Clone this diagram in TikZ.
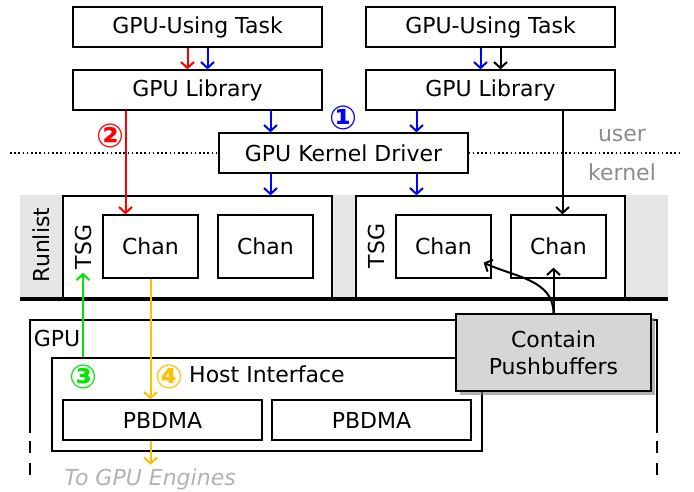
\documentclass[tikz,border=0pt]{standalone}
\usepackage{fontspec}
\setmainfont{DejaVu Sans}
\usetikzlibrary{positioning,shadows,arrows.meta}

\definecolor{hiyellow}{RGB}{255,192,0}
\definecolor{higreen}{RGB}{0,230,0}
\definecolor{bandgray}{RGB}{230,230,230}
\definecolor{notegray}{RGB}{214,214,214}

\tikzset{
  box/.style={draw, line width=1.3pt, fill=white, inner sep=0pt},
  callarrow/.style={-{Straight Barb[length=6pt, width=13pt]}, line width=2pt},
  faint/.style={text=black!45},
  stepmark/.style={font=\fontsize{33}{33}\selectfont\bfseries, inner sep=0pt},
}

\begin{document}
\begin{tikzpicture}[x=1pt, y=-1pt, font=\fontsize{22}{27}\selectfont]

\useasboundingbox (0,0) rectangle (694,491);

\coordinate (left-task-pos) at (197.5,27);
\coordinate (right-task-pos) at (490.5,27);
\coordinate (left-lib-pos) at (197.5,90);
\coordinate (right-lib-pos) at (490.5,90);
\coordinate (driver-pos) at (343.5,153);
\coordinate (left-tsg-pos) at (197.5,247.5);
\coordinate (right-tsg-pos) at (490.5,247.5);
\coordinate (host-pos) at (267,404.5);
\coordinate (contain-pos) at (553.5,352.5);

% runlist band and user/kernel split
\fill[bandgray] (20,195) rectangle (668,299);
\node [rotate=90] (runlist-label) at (41,245) {Runlist};

\node [box, minimum width=249, minimum height=40] (left-task) at (left-task-pos) {GPU-Using Task};
\node [box, minimum width=249, minimum height=40] (right-task) at (right-task-pos) {GPU-Using Task};
\node [box, minimum width=249, minimum height=40] (left-lib) at (left-lib-pos) {GPU Library};
\node [box, minimum width=249, minimum height=40] (right-lib) at (right-lib-pos) {GPU Library};
\node [box, minimum width=249, minimum height=40] (driver) at (driver-pos) {GPU Kernel Driver};

\draw [line width=1.3pt, dash pattern=on 1.6pt off 2.6pt] (10,153) -- (driver.west);
\draw [line width=1.3pt, dash pattern=on 1.6pt off 2.6pt] (driver.east) -- (680,153);
\node [faint] (user-label) at (622,135) {user};
\node [faint] (kernel-label) at (622,172) {kernel};

\node [box, minimum width=269, minimum height=103] (left-tsg) at (left-tsg-pos) {};
\node [box, minimum width=269, minimum height=103] (right-tsg) at (right-tsg-pos) {};
\node [rotate=90] (left-tsg-label) at (83,247) {TSG};
\node [rotate=90] (right-tsg-label) at (376,246) {TSG};
\node [box, minimum width=95, minimum height=63] (left-chan-a) at (150.5,246.5) {Chan};
\node [box, minimum width=95, minimum height=63] (left-chan-b) at (265.5,246.5) {Chan};
\node [box, minimum width=95, minimum height=63] (right-chan-a) at (443.5,246.5) {Chan};
\node [box, minimum width=95, minimum height=63] (right-chan-b) at (558.5,246.5) {Chan};

\draw [line width=4pt] (20,299) -- (668,299);

% gpu side
\draw [line width=1.3pt] (30,433) -- (30,320) -- (657,320) -- (657,433);
\draw [line width=1.3pt, dash pattern=on 12pt off 10pt] (30,441) -- (30,476);
\draw [line width=1.3pt, dash pattern=on 12pt off 10pt] (657,441) -- (657,476);
\node (gpu-label) at (57,338) {GPU};

\node [box, minimum width=430, minimum height=93] (host) at (host-pos) {};
\node (host-label) at (267,374) {Host Interface};
\node [box, minimum width=199, minimum height=40] (pbdma-a) at (162.5,420) {PBDMA};
\node [box, minimum width=199, minimum height=40] (pbdma-b) at (371.5,420) {PBDMA};
\node [text=black!30, font=\fontsize{22}{27}\selectfont\itshape] (engines) at (150,479) {To GPU Engines};

% numbered paths
\draw [callarrow, red] ([xshift=-10]left-task.south) -- ([xshift=-10]left-lib.north);
\draw [callarrow, blue] ([xshift=10]left-task.south) -- ([xshift=10]left-lib.north);
\draw [callarrow, blue] ([xshift=-10]right-task.south) -- ([xshift=-10]right-lib.north);
\draw [callarrow] ([xshift=10]right-task.south) -- ([xshift=10]right-lib.north);

\draw [callarrow, blue] ([xshift=-73]driver.north |- left-lib.south) -- ([xshift=-73]driver.north);
\draw [callarrow, blue] ([xshift=73]driver.north |- right-lib.south) -- ([xshift=73]driver.north);
\draw [callarrow, blue] ([xshift=-73]driver.south) -- ([xshift=-73]driver.south |- left-tsg.north);
\draw [callarrow, blue] ([xshift=73]driver.south) -- ([xshift=73]driver.south |- right-tsg.north);
\node [stepmark, text=blue] (step-one) at (343,118) {①};

\draw [callarrow, red] ([xshift=-25]left-chan-a.north |- left-lib.south) -- ([xshift=-25]left-chan-a.north);
\node [stepmark, text=red] (step-two) at (110,136) {②};

\draw [callarrow] ([xshift=4]right-chan-b.north |- right-lib.south) -- ([xshift=4]right-chan-b.north);

\draw [callarrow, higreen] (left-tsg-label.west |- host.north) -- (left-tsg-label.west);
\node [stepmark, text=higreen] (step-three) at (83,377) {③};

\draw [callarrow, hiyellow] (left-chan-a.south) -- (left-chan-a.south |- pbdma-a.north);
\draw [callarrow, hiyellow] (left-chan-a.south |- pbdma-a.south) -- (left-chan-a.south |- engines.north);
\node [stepmark, text=hiyellow] (step-four) at (169,377) {④};

% pushbuffer note
\node [box, fill=notegray, minimum width=195, minimum height=77, align=center,
       drop shadow={shadow xshift=4pt, shadow yshift=-4pt, opacity=0.6}] (contain) at (contain-pos) {Contain\\Pushbuffers};
\draw [callarrow] (contain.north) -- ([yshift=11]right-chan-b.south -| contain.north);
\draw [callarrow] (contain.north) to[out=90, in=-25] ([xshift=-8, yshift=16]right-chan-a.south east);

\end{tikzpicture}
\end{document}
